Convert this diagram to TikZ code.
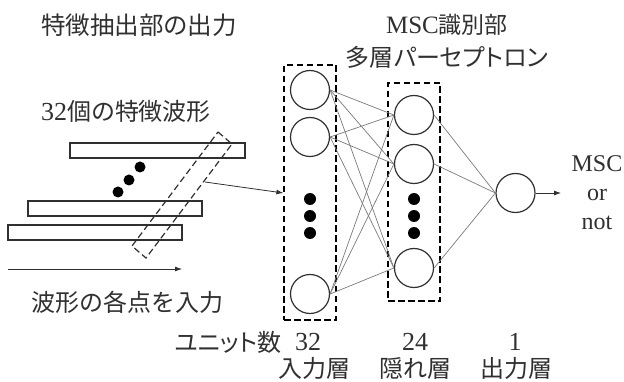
\documentclass[tikz,border=0pt]{standalone}
\usepackage{fontspec}
\setmainfont{Liberation Serif}
\newfontfamily\jp{Noto Sans CJK JP}
\newfontfamily\jpp[RawFeature=+palt]{Noto Sans CJK JP}
\usetikzlibrary{arrows.meta}
\definecolor{ink}{HTML}{303030}
\definecolor{wire}{HTML}{7A7A7A}
\begin{document}
\begin{tikzpicture}[x=1pt,y=-1pt,
  txt/.style={text=ink,inner sep=0pt,font=\fontsize{24}{28}\selectfont},
  num/.style={txt,font=\fontsize{26}{28}\selectfont},
  unit/.style={circle,draw=ink,line width=1.2pt,minimum size=39pt,inner sep=0pt},
  layerbox/.style={draw=black,dash pattern=on 6.5pt off 3.5pt,line width=1.2pt,inner sep=0pt},
  wave/.style={draw=ink,line width=1.2pt,inner sep=0pt,minimum height=15pt},
  conn/.style={draw=wire,line width=0.7pt},
  arr/.style={draw=ink,line width=0.8pt,-{Latex[length=7pt,width=5pt]}},
  dot/.style={fill=black}]
\useasboundingbox (0,0) rectangle (624,382);

% titles
\node[txt,font=\fontsize{24.5}{28}\selectfont] (t1) at (139,25) {\jp 特徴抽出部の出力};
\node[txt] (t2) at (126,111) {{\fontsize{26}{28}\selectfont 32}{\jp 個の特徴波形}};
\node[txt] (t3) at (127,302) {\jp 波形の各点を入力};
\node[txt,font=\fontsize{23}{26}\selectfont] (t4) at (447,25) {{\fontsize{25}{26}\selectfont MSC}{\jp 識別部}};
\node[txt] (t5) at (447,57) {\jpp 多層パーセプトロン};

% waveforms
\node[wave,minimum width=175pt] (w1) at (157.5,150.5) {};
\node[wave,minimum width=174pt] (w2) at (115,208.5) {};
\node[wave,minimum width=174pt] (w3) at (95,232.5) {};
\fill[dot] (140,167) circle (5.5pt);
\fill[dot] (129,180) circle (5.5pt);
\fill[dot] (118,192) circle (5.5pt);

% selection window
\coordinate (sa) at (218,132);
\coordinate (sb) at (232,144);
\coordinate (sc) at (146,258);
\coordinate (sd) at (132,246);
\draw[draw=ink,dash pattern=on 6.5pt off 3.5pt,line width=1.2pt] (sa) -- (sb) -- (sc) -- (sd) -- cycle;
\coordinate (wsrc) at (205,182);

% input direction arrow
\coordinate (p0) at (8,269);
\coordinate (p1) at (182,269);
\draw[arr] (p0) -- (p1);

% layer boxes
\node[layerbox,minimum width=52pt,minimum height=255pt] (inbox) at (310,192.5) {};
\node[layerbox,minimum width=52pt,minimum height=218pt] (hidbox) at (414,192) {};

% units
\node[unit] (i1) at (310,90) {};
\node[unit] (i2) at (310,137) {};
\node[unit] (i3) at (310,294) {};
\node[unit] (h1) at (414,115) {};
\node[unit] (h2) at (414,164) {};
\node[unit] (h3) at (414,268) {};
\node[unit] (o) at (515.5,193) {};

\foreach \y in {199,216,233} {
  \fill[dot] (310,\y) circle (6pt);
  \fill[dot] (414,\y) circle (6pt);
}

% connections
\foreach \a in {i1,i2,i3}
  \foreach \b in {h1,h2,h3}
    \draw[conn] (\a.east) -- (\b.west);
\foreach \b in {h1,h2,h3}
  \draw[conn] (\b.east) -- (o.west);

% arrows
\draw[arr] (wsrc) -- (inbox.west |- 0,193);
\coordinate (oend) at (561,193);
\draw[arr] (o.east) -- (oend);

% output label
\node[txt,font=\fontsize{24}{30}\selectfont,align=center] (res) at (597,193) {MSC\\[-1pt]or\\[-1pt]not};

% bottom labels
\node[txt,anchor=east,font=\fontsize{24}{26}\selectfont] (un) at (282,342) {\jpp ユニット数};
\node[num] (n1) at (308,342) {32};
\node[num] (n2) at (415,342) {24};
\node[num] (n3) at (515,342) {1};
\node[txt] (l1) at (314,368) {\jp 入力層};
\node[txt] (l2) at (415,368) {\jp 隠れ層};
\node[txt] (l3) at (516,368) {\jp 出力層};
\end{tikzpicture}
\end{document}
